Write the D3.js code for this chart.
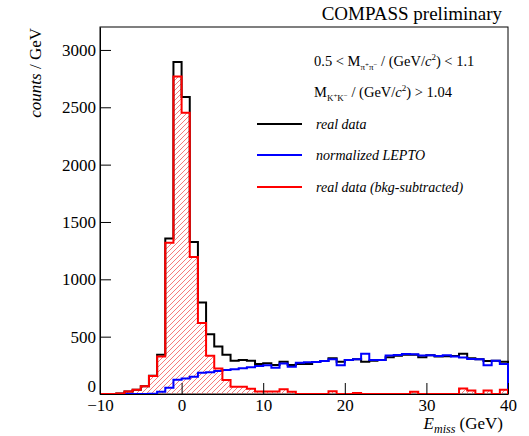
<!DOCTYPE html>
<html>
<head>
<meta charset="utf-8">
<script src="https://cdn.jsdelivr.net/npm/d3@7"></script>
<style>
  body { margin: 0; background: #fff; }
  svg { display: block; }
  text { font-family: "Liberation Serif", "Times New Roman", serif; fill: #000; }
</style>
</head>
<body>
<svg id="chart" width="529" height="436"></svg>
<script>
// Missing-energy histograms, 1 GeV bins from -10 to 40 GeV
const binEdges = [-10, -9, -8, -7, -6, -5, -4, -3, -2, -1, 0, 1, 2, 3, 4, 5, 6, 7, 8, 9,
  10, 11, 12, 13, 14, 15, 16, 17, 18, 19, 20, 21, 22, 23, 24, 25, 26, 27, 28, 29,
  30, 31, 32, 33, 34, 35, 36, 37, 38, 39, 40];

const realData = [0, 0, 5, 22, 38, 68, 160, 342, 1355, 2895,
  2590, 1325, 798, 521, 415, 342, 290, 296, 290, 262,
  268, 253, 282, 253, 262, 262, 279, 288, 311, 282,
  297, 303, 282, 291, 297, 320, 334, 342, 342, 320,
  338, 326, 330, 331, 352, 311, 302, 288, 291, 282];

const leptoNorm = [0, 0, 0, 0, 0, 0, 3, 20, 55, 125,
  135, 150, 185, 190, 200, 209, 215, 224, 233, 244,
  250, 228, 265, 238, 273, 276, 278, 288, 303, 250,
  297, 303, 352, 297, 297, 336, 340, 348, 346, 335,
  337, 332, 338, 328, 318, 306, 303, 250, 290, 262];

const bkgSubtracted = [0, 0, 5, 22, 38, 68, 158, 326, 1318, 2768,
  2453, 1195, 620, 333, 222, 122, 64, 64, 45, 22,
  22, 22, 41, 20, 0, 0, 0, 0, 25, 0,
  0, 8, 0, 0, 0, 0, 0, 0, 20, 0,
  0, 0, 0, 0, 48, 30, 0, 30, 0, 38];

const xTicks = [-10, 0, 10, 20, 30, 40];
const yTicks = [0, 500, 1000, 1500, 2000, 2500, 3000];

const svg = d3.select("#chart");
const frame = { left: 100, right: 508, top: 27, bottom: 394 };

const x = d3.scaleLinear().domain([-10, 40]).range([frame.left, frame.right]);
const y = d3.scaleLinear().domain([0, 3200]).range([frame.bottom, frame.top]);

// hatch for the background-subtracted histogram
const defs = svg.append("defs");
defs.append("pattern")
  .attr("id", "hatch")
  .attr("patternUnits", "userSpaceOnUse")
  .attr("width", 5).attr("height", 5)
  .append("path")
  .attr("d", "M-1,1 L1,-1 M0,5 L5,0 M4,6 L6,4")
  .attr("stroke", "#f45a5a")
  .attr("stroke-width", 0.8)
  .attr("fill", "none");

function stepPoints(vals) {
  const pts = [[binEdges[0], 0]];
  vals.forEach((v, i) => {
    pts.push([binEdges[i], v], [binEdges[i + 1], v]);
  });
  pts.push([binEdges[binEdges.length - 1], 0]);
  return pts;
}
const line = d3.line().x(d => x(d[0])).y(d => y(d[1]));

// frame
svg.append("rect")
  .attr("x", frame.left).attr("y", frame.top)
  .attr("width", frame.right - frame.left)
  .attr("height", frame.bottom - frame.top)
  .attr("fill", "none").attr("stroke", "#000").attr("stroke-width", 1);

// hatched area under the subtracted histogram
svg.append("path")
  .attr("d", line(stepPoints(bkgSubtracted)) + "Z")
  .attr("fill", "url(#hatch)")
  .attr("stroke", "none");

const series = [
  { vals: realData, color: "#000000" },
  { vals: leptoNorm, color: "#0000ff" },
  { vals: bkgSubtracted, color: "#ff0000" }
];
series.forEach(s => {
  svg.append("path")
    .attr("d", line(stepPoints(s.vals)))
    .attr("fill", "none")
    .attr("stroke", s.color)
    .attr("stroke-width", 2)
    .attr("stroke-linejoin", "miter");
});

// axes with inward ticks
const xAxis = d3.axisBottom(x).tickValues(xTicks).tickSizeInner(-11).tickSizeOuter(0).tickPadding(5)
  .tickFormat(d3.format("d"));
const yAxis = d3.axisLeft(y).tickValues(yTicks).tickSizeInner(-11).tickSizeOuter(0).tickPadding(4)
  .tickFormat(d3.format("d"));

const gx = svg.append("g").attr("transform", `translate(0,${frame.bottom})`).call(xAxis);
const gy = svg.append("g").attr("transform", `translate(${frame.left},0)`).call(yAxis);
[gx, gy].forEach(g => {
  g.selectAll("path.domain").attr("stroke", "#000");
  g.selectAll(".tick line").attr("stroke", "#000");
  g.selectAll(".tick text")
    .attr("font-family", "'Liberation Serif', 'Times New Roman', serif")
    .attr("font-size", 17).attr("fill", "#000");
});
// the zero label sits just above the first x label
gy.selectAll(".tick text").filter(d => d === 0).attr("dy", "-0.12em");

// axis titles
const xt = svg.append("text")
  .attr("x", 503).attr("y", 429)
  .attr("text-anchor", "end")
  .attr("font-size", 17);
xt.append("tspan").attr("font-style", "italic").text("E");
xt.append("tspan").attr("font-style", "italic").attr("font-size", 12).attr("dy", 4).text("miss");
xt.append("tspan").attr("dy", -4).text(" (GeV)");

const yt = svg.append("text")
  .attr("transform", "translate(41,28) rotate(-90)")
  .attr("text-anchor", "end")
  .attr("font-size", 17);
yt.append("tspan").attr("font-style", "italic").text("counts");
yt.append("tspan").text(" / GeV");

// header
svg.append("text")
  .attr("x", 502).attr("y", 20)
  .attr("text-anchor", "end")
  .attr("font-size", 19)
  .text("COMPASS preliminary");

// rich text helper: segments with size, vertical shift and style
function richText(xp, yp, size, segs) {
  const t = svg.append("text").attr("x", xp).attr("y", yp).attr("font-size", size);
  let prev = 0;
  segs.forEach(s => {
    const shift = s.shift || 0;
    const sp = t.append("tspan").attr("dy", shift - prev).text(s.t);
    if (s.size) sp.attr("font-size", s.size);
    if (s.italic) sp.attr("font-style", "italic");
    prev = shift;
  });
  return t;
}

richText(314, 66, 14.5, [
  { t: "0.5 < M" },
  { t: "π", size: 9, shift: 4 },
  { t: "+", size: 7, shift: 1 },
  { t: "π", size: 9, shift: 4 },
  { t: "−", size: 7, shift: 1 },
  { t: " / (GeV/", shift: 0 },
  { t: "c", italic: true },
  { t: "2", size: 9, shift: -6 },
  { t: ") < 1.1", shift: 0 }
]);
richText(314, 97, 14.5, [
  { t: "M" },
  { t: "K", size: 9, shift: 4 },
  { t: "+", size: 7, shift: 1 },
  { t: "K", size: 9, shift: 4 },
  { t: "−", size: 7, shift: 1 },
  { t: " / (GeV/", shift: 0 },
  { t: "c", italic: true },
  { t: "2", size: 9, shift: -6 },
  { t: ") > 1.04", shift: 0 }
]);

// legend
const legendItems = [
  { label: "real data", color: "#000000", yy: 124 },
  { label: "normalized LEPTO", color: "#0000ff", yy: 155 },
  { label: "real data (bkg-subtracted)", color: "#ff0000", yy: 187 }
];
legendItems.forEach(d => {
  svg.append("line")
    .attr("x1", 257).attr("x2", 302)
    .attr("y1", d.yy).attr("y2", d.yy)
    .attr("stroke", d.color).attr("stroke-width", 2);
  svg.append("text")
    .attr("x", 316).attr("y", d.yy + 5)
    .attr("font-size", 14)
    .attr("font-style", "italic")
    .text(d.label);
});
</script>
</body>
</html>
